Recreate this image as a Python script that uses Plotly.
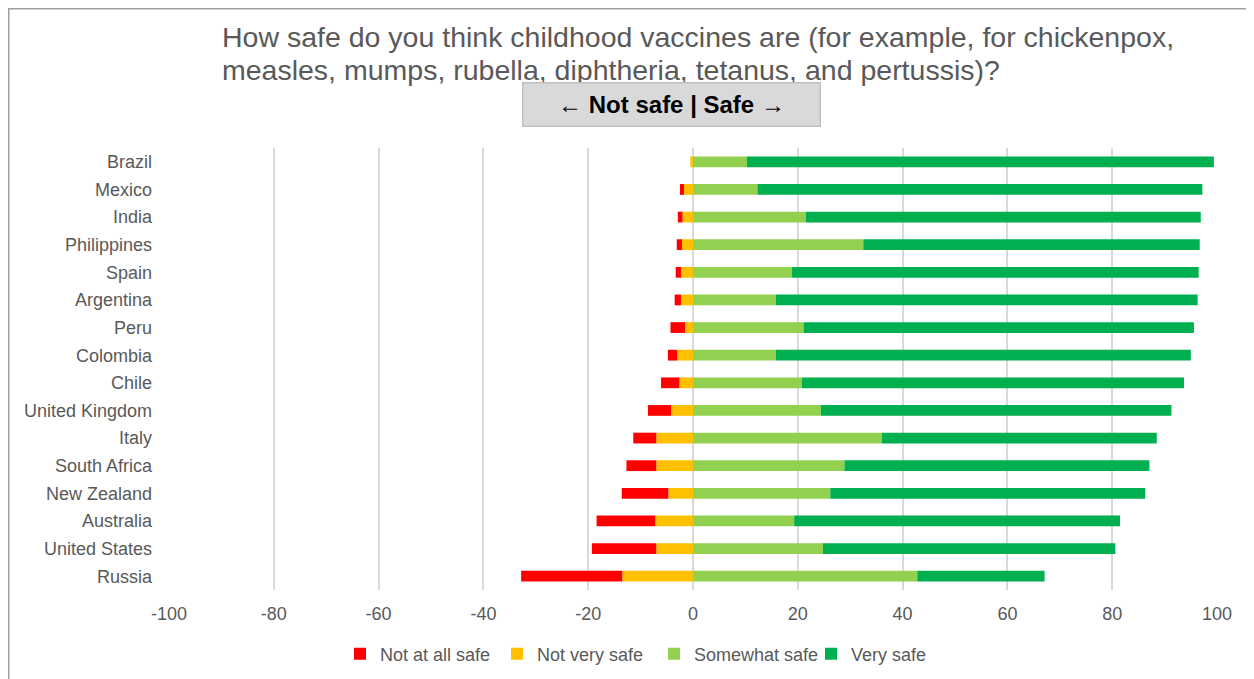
import plotly.graph_objects as go

countries = ["Brazil", "Mexico", "India", "Philippines", "Spain", "Argentina", "Peru",
             "Colombia", "Chile", "United Kingdom", "Italy", "South Africa",
             "New Zealand", "Australia", "United States", "Russia"]
not_at_all_safe = [0.0, 0.8, 0.9, 1.0, 1.0, 1.2, 2.8, 1.8, 3.5, 4.4, 4.4, 5.7, 8.9, 11.2, 12.3, 19.3]
not_very_safe = [0.5, 1.7, 2.0, 2.1, 2.3, 2.3, 1.5, 3.0, 2.6, 4.2, 7.0, 7.0, 4.7, 7.2, 7.0, 13.5]
somewhat_safe = [10.3, 12.3, 21.5, 32.5, 18.9, 15.8, 21.1, 15.8, 20.8, 24.4, 36.0, 28.9, 26.2, 19.3, 24.8, 42.8]
very_safe = [89.1, 84.9, 75.4, 64.2, 77.6, 80.5, 74.5, 79.2, 72.9, 66.9, 52.5, 58.2, 60.1, 62.2, 55.8, 24.3]
x_ticks = [-100, -80, -60, -40, -20, 0, 20, 40, 60, 80, 100]
title_lines = ["How safe do you think childhood vaccines are (for example, for chickenpox,",
               "measles, mumps, rubella, diphtheria, tetanus, and pertussis)?"]

FONT = "Liberation Sans, Arial, sans-serif"
GREY = "#595959"

fig = go.Figure()
fig.add_trace(go.Bar(y=countries, x=[-v for v in not_very_safe], name="Not very safe",
                     orientation="h", marker=dict(color="#FFC000", line=dict(width=0)), legendrank=2))
fig.add_trace(go.Bar(y=countries, x=[-v for v in not_at_all_safe], name="Not at all safe",
                     orientation="h", marker=dict(color="#FF0000", line=dict(width=0)), legendrank=1))
fig.add_trace(go.Bar(y=countries, x=somewhat_safe, name="Somewhat safe",
                     orientation="h", marker=dict(color="#92D050", line=dict(width=0)), legendrank=3))
fig.add_trace(go.Bar(y=countries, x=very_safe, name="Very safe",
                     orientation="h", marker=dict(color="#00B050", line=dict(width=0)), legendrank=4))

# page body has an 8px margin; positions below are figure pixels
OFF = 8
W, H = 1254, 679
L, R, T, B = 169 - OFF, 1254 - (1217 - OFF), 148 - OFF, 679 - (590 - OFF)
pw, ph = W - L - R, H - T - B

def px(xp):
    return (xp - OFF - L) / pw

def py(yp):
    return (H - B - (yp - OFF)) / ph

fig.update_layout(
    width=W, height=H,
    margin=dict(l=L, r=R, t=T, b=B, pad=0),
    barmode="relative", bargap=0.61,
    paper_bgcolor="white", plot_bgcolor="white",
    font=dict(family=FONT, size=18, color=GREY),
    xaxis=dict(range=[-100, 100], tickvals=x_ticks, ticktext=[str(v) for v in x_ticks],
               showgrid=True, gridcolor="#d9d9d9", gridwidth=1.5,
               zeroline=True, zerolinecolor="#d9d9d9", zerolinewidth=1.5,
               showline=False, ticks="", ticklabelstandoff=11,
               tickfont=dict(size=18, color=GREY)),
    yaxis=dict(categoryorder="array", categoryarray=countries, autorange="reversed",
               showgrid=False, showline=False, ticks="", ticklabelstandoff=16,
               tickfont=dict(size=18, color=GREY)),
    legend=dict(orientation="h", x=px(654), xanchor="center", y=py(654), yanchor="middle",
                font=dict(size=18, color=GREY), traceorder="normal",
                itemwidth=30, entrywidth=112, entrywidthmode="pixels"),
    showlegend=True,
)

for line, yc in zip(title_lines, [37, 70]):
    fig.add_annotation(xref="paper", yref="paper", x=px(220), y=py(yc), xanchor="left", yanchor="middle",
                       align="left", showarrow=False, text=line,
                       font=dict(family=FONT, size=28.5, color=GREY))
fig.add_annotation(xref="paper", yref="paper", x=px(671), y=py(104.5), xanchor="center", yanchor="middle",
                   showarrow=False, text="<b>← Not safe | Safe →</b>",
                   font=dict(family=FONT, size=24, color="black"),
                   bgcolor="#d9d9d9", bordercolor="#bfbfbf", borderwidth=1.5,
                   width=294, height=40)
# outer frame
fig.add_shape(type="rect", xref="paper", yref="paper",
              x0=px(8.5), x1=px(W + 40), y0=py(H + 40), y1=py(8.5),
              line=dict(color="#a0a0a0", width=2), fillcolor="rgba(0,0,0,0)", layer="below")

fig.write_html("out.html")
